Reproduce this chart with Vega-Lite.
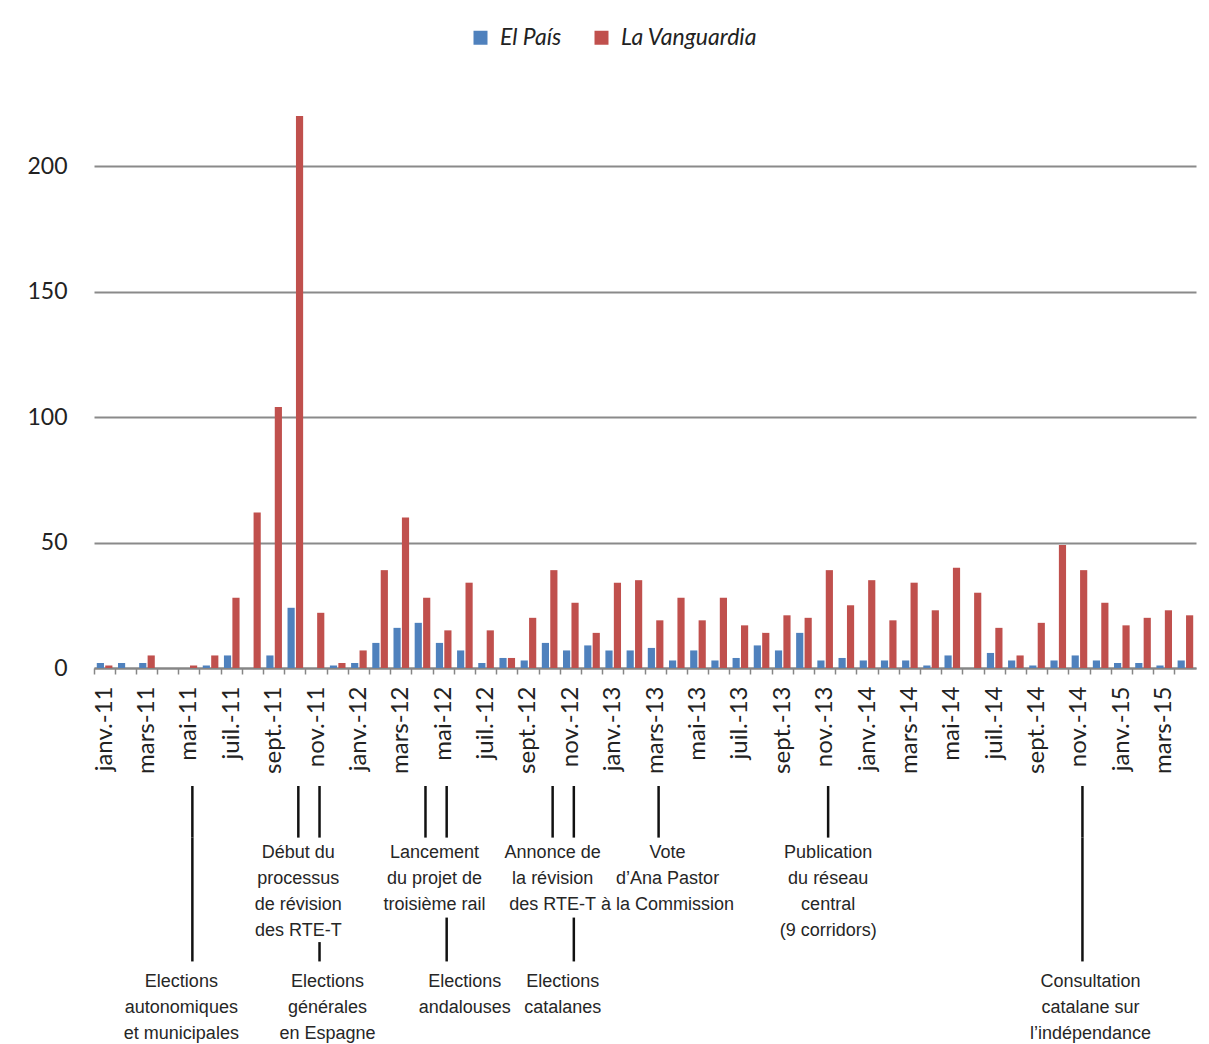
{
  "$schema": "https://vega.github.io/schema/vega-lite/v6.json",
  "background": "white",
  "padding": {"left": 26, "top": 26, "right": 5, "bottom": 0},
  "config": {"view": {"stroke": null}, "font": "Lato"},
  "resolve": {"scale": {"x": "shared"}},
  "bounds": "flush",
  "spacing": 118,
  "vconcat": [
    {
      "width": 1102,
      "height": 552,
      "data": {"values": [
        {"mois": "2011-01-15", "El País": 2, "La Vanguardia": 1},
        {"mois": "2011-02-15", "El País": 2, "La Vanguardia": 0},
        {"mois": "2011-03-15", "El País": 2, "La Vanguardia": 5},
        {"mois": "2011-04-15", "El País": 0, "La Vanguardia": 0},
        {"mois": "2011-05-15", "El País": 0, "La Vanguardia": 1},
        {"mois": "2011-06-15", "El País": 1, "La Vanguardia": 5},
        {"mois": "2011-07-15", "El País": 5, "La Vanguardia": 28},
        {"mois": "2011-08-15", "El País": 0, "La Vanguardia": 62},
        {"mois": "2011-09-15", "El País": 5, "La Vanguardia": 104},
        {"mois": "2011-10-15", "El País": 24, "La Vanguardia": 220},
        {"mois": "2011-11-15", "El País": 0, "La Vanguardia": 22},
        {"mois": "2011-12-15", "El País": 1, "La Vanguardia": 2},
        {"mois": "2012-01-15", "El País": 2, "La Vanguardia": 7},
        {"mois": "2012-02-15", "El País": 10, "La Vanguardia": 39},
        {"mois": "2012-03-15", "El País": 16, "La Vanguardia": 60},
        {"mois": "2012-04-15", "El País": 18, "La Vanguardia": 28},
        {"mois": "2012-05-15", "El País": 10, "La Vanguardia": 15},
        {"mois": "2012-06-15", "El País": 7, "La Vanguardia": 34},
        {"mois": "2012-07-15", "El País": 2, "La Vanguardia": 15},
        {"mois": "2012-08-15", "El País": 4, "La Vanguardia": 4},
        {"mois": "2012-09-15", "El País": 3, "La Vanguardia": 20},
        {"mois": "2012-10-15", "El País": 10, "La Vanguardia": 39},
        {"mois": "2012-11-15", "El País": 7, "La Vanguardia": 26},
        {"mois": "2012-12-15", "El País": 9, "La Vanguardia": 14},
        {"mois": "2013-01-15", "El País": 7, "La Vanguardia": 34},
        {"mois": "2013-02-15", "El País": 7, "La Vanguardia": 35},
        {"mois": "2013-03-15", "El País": 8, "La Vanguardia": 19},
        {"mois": "2013-04-15", "El País": 3, "La Vanguardia": 28},
        {"mois": "2013-05-15", "El País": 7, "La Vanguardia": 19},
        {"mois": "2013-06-15", "El País": 3, "La Vanguardia": 28},
        {"mois": "2013-07-15", "El País": 4, "La Vanguardia": 17},
        {"mois": "2013-08-15", "El País": 9, "La Vanguardia": 14},
        {"mois": "2013-09-15", "El País": 7, "La Vanguardia": 21},
        {"mois": "2013-10-15", "El País": 14, "La Vanguardia": 20},
        {"mois": "2013-11-15", "El País": 3, "La Vanguardia": 39},
        {"mois": "2013-12-15", "El País": 4, "La Vanguardia": 25},
        {"mois": "2014-01-15", "El País": 3, "La Vanguardia": 35},
        {"mois": "2014-02-15", "El País": 3, "La Vanguardia": 19},
        {"mois": "2014-03-15", "El País": 3, "La Vanguardia": 34},
        {"mois": "2014-04-15", "El País": 1, "La Vanguardia": 23},
        {"mois": "2014-05-15", "El País": 5, "La Vanguardia": 40},
        {"mois": "2014-06-15", "El País": 0, "La Vanguardia": 30},
        {"mois": "2014-07-15", "El País": 6, "La Vanguardia": 16},
        {"mois": "2014-08-15", "El País": 3, "La Vanguardia": 5},
        {"mois": "2014-09-15", "El País": 1, "La Vanguardia": 18},
        {"mois": "2014-10-15", "El País": 3, "La Vanguardia": 49},
        {"mois": "2014-11-15", "El País": 5, "La Vanguardia": 39},
        {"mois": "2014-12-15", "El País": 3, "La Vanguardia": 26},
        {"mois": "2015-01-15", "El País": 2, "La Vanguardia": 17},
        {"mois": "2015-02-15", "El País": 2, "La Vanguardia": 20},
        {"mois": "2015-03-15", "El País": 1, "La Vanguardia": 23},
        {"mois": "2015-04-15", "El País": 3, "La Vanguardia": 21}
      ]},
      "transform": [{"fold": ["El País", "La Vanguardia"], "as": ["journal", "n"]}],
      "mark": {"type": "bar"},
      "encoding": {
        "x": {
          "field": "mois", "timeUnit": "yearmonth", "type": "ordinal",
          "scale": {"paddingInner": 0, "paddingOuter": 0},
          "axis": {
            "title": null, "bandPosition": 0, "labelAngle": -90,
            "labelFont": "Lato", "labelFontSize": 24, "labelPadding": 12, "labelColor": "#222222",
            "labelOverlap": false, "tickSize": 6, "tickColor": "#868686", "tickWidth": 1.5,
            "domainColor": "#868686", "domainWidth": 2, "grid": false,
            "labelExpr": "month(datum.value) % 2 == 0 ? ['janv.','févr.','mars','avr.','mai','juin','juil.','août','sept.','oct.','nov.','déc.'][month(datum.value)] + '-' + timeFormat(datum.value, '%y') : ''"
          }
        },
        "xOffset": {"field": "journal", "type": "nominal", "scale": {"paddingInner": 0.15, "paddingOuter": 0.33}},
        "y": {
          "field": "n", "type": "quantitative",
          "scale": {"domain": [0, 220], "nice": false},
          "axis": {
            "title": null, "values": [0, 50, 100, 150, 200], "grid": true, "gridColor": "#8a8a8a", "gridWidth": 2,
            "domain": false, "ticks": false, "labelFont": "Lato", "labelFontSize": 23, "labelPadding": 27, "labelColor": "#222222"
          }
        },
        "color": {
          "field": "journal", "type": "nominal",
          "scale": {"domain": ["El País", "La Vanguardia"], "range": ["#4F81BD", "#C0504D"]},
          "legend": {
            "title": null, "orient": "none", "legendX": 375, "legendY": -90, "direction": "horizontal",
            "symbolType": "square", "symbolSize": 196, "symbolStrokeWidth": 0,
            "labelFont": "Lato", "labelFontSize": 23, "labelFontStyle": "italic", "labelColor": "#222222",
            "columnPadding": 28, "labelOffset": 8
          }
        }
      }
    },
    {
      "width": 1102,
      "height": 258,
      "data": {"values": [
        {"mois": "2011-05-15", "label": "Elections\nautonomiques\net municipales", "niveau": "bas"},
        {"mois": "2011-10-15", "label": "Début du\nprocessus\nde révision\ndes RTE-T", "niveau": "haut"},
        {"mois": "2011-11-15", "label": "Elections\ngénérales\nen Espagne", "niveau": "bas"},
        {"mois": "2012-04-15", "label": "Lancement\ndu projet de\ntroisième rail", "niveau": "haut"},
        {"mois": "2012-05-15", "label": "Elections\nandalouses", "niveau": "bas"},
        {"mois": "2012-10-15", "label": "Annonce de\nla révision\ndes RTE-T", "niveau": "haut"},
        {"mois": "2012-11-15", "label": "Elections\ncatalanes", "niveau": "bas"},
        {"mois": "2013-03-15", "label": "Vote\nd’Ana Pastor\nà la Commission", "niveau": "haut"},
        {"mois": "2013-11-15", "label": "Publication\ndu réseau\ncentral\n(9 corridors)", "niveau": "haut"},
        {"mois": "2014-11-15", "label": "Consultation\ncatalane sur\nl’indépendance", "niveau": "bas"}
      ]},
      "encoding": {
        "x": {"field": "mois", "timeUnit": "yearmonth", "type": "ordinal", "axis": null}
      },
      "layer": [
        {
          "mark": {"type": "rule", "color": "#111111", "strokeWidth": 2.5, "xOffset": 3},
          "encoding": {
            "y": {"datum": 0, "type": "quantitative", "scale": {"domain": [0, 10], "reverse": true, "nice": false, "zero": false}, "axis": null},
            "y2": {"datum": 2}
          }
        },
        {
          "transform": [{"filter": "test(/autonomiques|Consultation/, datum.label)"}],
          "mark": {"type": "rule", "color": "#111111", "strokeWidth": 2.5, "xOffset": 3},
          "encoding": {
            "y": {"datum": 2, "type": "quantitative", "scale": {"domain": [0, 10], "reverse": true, "nice": false, "zero": false}, "axis": null},
            "y2": {"datum": 6.8}
          }
        },
        {
          "transform": [{"filter": "test(/andalouses|catalanes/, datum.label)"}],
          "mark": {"type": "rule", "color": "#111111", "strokeWidth": 2.5, "xOffset": 3},
          "encoding": {
            "y": {"datum": 5.1, "type": "quantitative", "scale": {"domain": [0, 10], "reverse": true, "nice": false, "zero": false}, "axis": null},
            "y2": {"datum": 6.8}
          }
        },
        {
          "transform": [{"filter": "test(/générales/, datum.label)"}],
          "mark": {"type": "rule", "color": "#111111", "strokeWidth": 2.5, "xOffset": 3},
          "encoding": {
            "y": {"datum": 6.05, "type": "quantitative", "scale": {"domain": [0, 10], "reverse": true, "nice": false, "zero": false}, "axis": null},
            "y2": {"datum": 6.8}
          }
        },
        {
          "transform": [{"filter": "datum.niveau == 'haut' && test(/Vote|Lancement/, datum.label)"}],
          "mark": {"type": "text", "baseline": "top", "align": "center", "lineBreak": "\n", "lineHeight": 26, "font": "Liberation Sans", "fontSize": 18, "color": "#262626", "dx": 12},
          "encoding": {
            "y": {"datum": 2.25, "type": "quantitative", "scale": {"domain": [0, 10], "reverse": true, "nice": false, "zero": false}, "axis": null},
            "text": {"field": "label", "type": "nominal"}
          }
        },
        {
          "transform": [{"filter": "datum.niveau == 'haut' && !test(/Vote|Lancement/, datum.label)"}],
          "mark": {"type": "text", "baseline": "top", "align": "center", "lineBreak": "\n", "lineHeight": 26, "font": "Liberation Sans", "fontSize": 18, "color": "#262626", "dx": 3},
          "encoding": {
            "y": {"datum": 2.25, "type": "quantitative", "scale": {"domain": [0, 10], "reverse": true, "nice": false, "zero": false}, "axis": null},
            "text": {"field": "label", "type": "nominal"}
          }
        },
        {
          "transform": [{"filter": "datum.niveau == 'bas' && test(/générales|Consultation/, datum.label)"}],
          "mark": {"type": "text", "baseline": "top", "align": "center", "lineBreak": "\n", "lineHeight": 26, "font": "Liberation Sans", "fontSize": 18, "color": "#262626", "dx": 11},
          "encoding": {
            "y": {"datum": 7.25, "type": "quantitative", "scale": {"domain": [0, 10], "reverse": true, "nice": false, "zero": false}, "axis": null},
            "text": {"field": "label", "type": "nominal"}
          }
        },
        {
          "transform": [{"filter": "datum.niveau == 'bas' && test(/andalouses/, datum.label)"}],
          "mark": {"type": "text", "baseline": "top", "align": "center", "lineBreak": "\n", "lineHeight": 26, "font": "Liberation Sans", "fontSize": 18, "color": "#262626", "dx": 21},
          "encoding": {
            "y": {"datum": 7.25, "type": "quantitative", "scale": {"domain": [0, 10], "reverse": true, "nice": false, "zero": false}, "axis": null},
            "text": {"field": "label", "type": "nominal"}
          }
        },
        {
          "transform": [{"filter": "datum.niveau == 'bas' && test(/autonomiques|catalanes/, datum.label)"}],
          "mark": {"type": "text", "baseline": "top", "align": "center", "lineBreak": "\n", "lineHeight": 26, "font": "Liberation Sans", "fontSize": 18, "color": "#262626", "dx": -8},
          "encoding": {
            "y": {"datum": 7.25, "type": "quantitative", "scale": {"domain": [0, 10], "reverse": true, "nice": false, "zero": false}, "axis": null},
            "text": {"field": "label", "type": "nominal"}
          }
        }
      ]
    }
  ]
}
